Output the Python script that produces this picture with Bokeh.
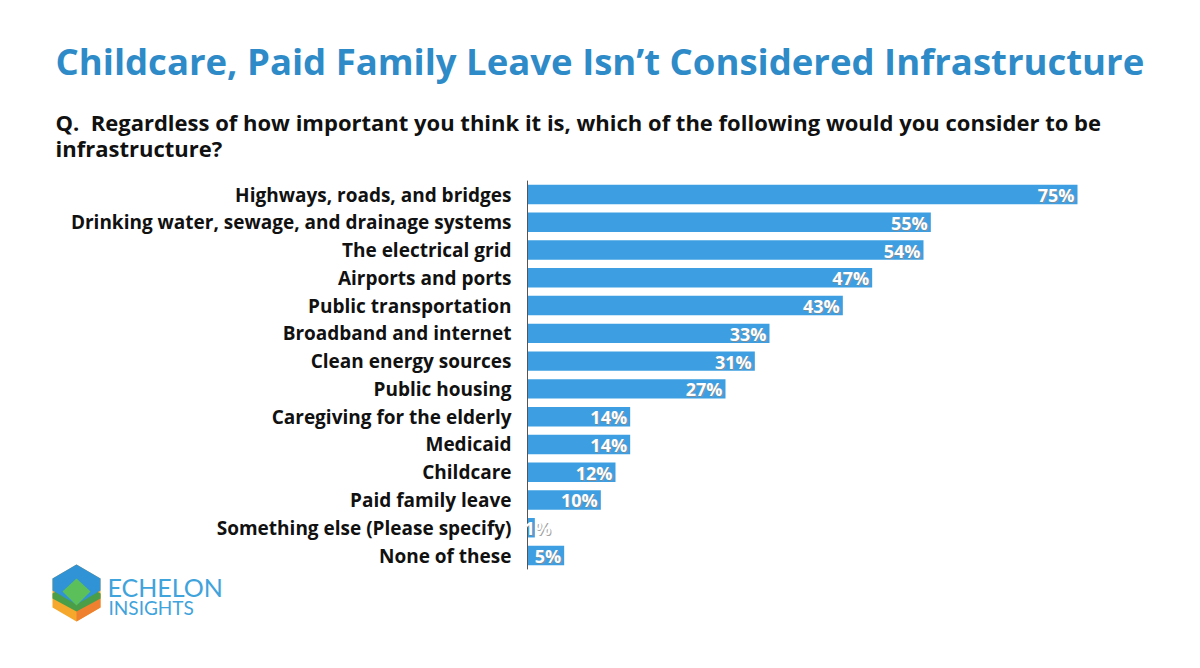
from bokeh.plotting import figure
from bokeh.models import ColumnDataSource, Label, PolyAnnotation, Range1d
from bokeh.core.properties import value
from bokeh.embed import file_html
from bokeh.resources import INLINE

categories = [
    "Highways, roads, and bridges",
    "Drinking water, sewage, and drainage systems",
    "The electrical grid",
    "Airports and ports",
    "Public transportation",
    "Broadband and internet",
    "Clean energy sources",
    "Public housing",
    "Caregiving for the elderly",
    "Medicaid",
    "Childcare",
    "Paid family leave",
    "Something else (Please specify)",
    "None of these",
]
values = [75, 55, 54, 47, 43, 33, 31, 27, 14, 14, 12, 10, 1, 5]
value_labels = [f"{v}%" for v in values]

TITLE = "Childcare, Paid Family Leave Isn\u2019t Considered Infrastructure"
SUB1 = "Q.\u00a0 Regardless of how important you think it is, which of the following would you consider to be"
SUB2 = "infrastructure?"

W, H = 1184, 652
FONT = "Open Sans"
BAR = "#3d9fe2"
BLUE_TITLE = "#2e8bc8"

# layout of the plotting area (pixels from top-left of canvas)
AXIS_X = 527          # where 0% sits
PX_PER_PCT = 550 / 75
ROW0_Y = 194          # centre of first row
ROW_H = 27.77

n = len(categories)
rows = list(range(n))

# label anchor: inside bar end, or just past bar start when the bar is too short
label_x = [v if v >= 4 else 3.6 for v in values]

src = ColumnDataSource(dict(cat=categories, row=rows, val=values,
                            lab=value_labels, lx=label_x, zero=[0] * n))

p = figure(width=W, height=H, output_backend="svg", toolbar_location=None,
           x_axis_location=None, y_axis_location=None,
           x_range=Range1d(-AXIS_X / PX_PER_PCT, (W - AXIS_X) / PX_PER_PCT),
           y_range=Range1d((H - ROW0_Y) / ROW_H, -ROW0_Y / ROW_H),
           min_border=0)
p.outline_line_color = None
p.background_fill_color = "white"
p.border_fill_color = "white"
p.grid.visible = False

p.hbar(y="row", right="val", left=0, height=0.7, source=src,
       fill_color=BAR, line_color=None)

# axis line and category labels
p.segment(x0=[0], x1=[0], y0=[-0.5], y1=[n - 0.5], line_color="#555555", line_width=1)
p.text(x="zero", y="row", text="cat", source=src, text_align="right",
       text_baseline="middle", x_offset=-16,
       text_font=value(FONT), text_font_style="bold", text_font_size="19px",
       text_color="#111111")

# shadow then white value labels
p.text(x="lx", y="row", text="lab", source=src, text_align="right",
       text_baseline="middle", x_offset=-2, y_offset=1.5,
       text_font=value(FONT), text_font_style="bold", text_font_size="18px",
       text_color="#8a8a8a", text_alpha=0.8)
p.text(x="lx", y="row", text="lab", source=src, text_align="right",
       text_baseline="middle", x_offset=-3, y_offset=0.5,
       text_font=value(FONT), text_font_style="bold", text_font_size="18px",
       text_color="white")

# screen units: origin bottom-left of the frame (= canvas here)
def sx(page_x):
    return page_x

def sy(page_y):
    return H - page_y

p.add_layout(Label(x=sx(55), y=sy(60), x_units="screen", y_units="screen",
                   text=TITLE, text_font=FONT, text_font_style="bold",
                   text_font_size="36.5px", text_color=BLUE_TITLE,
                   text_baseline="middle"))
p.add_layout(Label(x=sx(55), y=sy(121), x_units="screen", y_units="screen",
                   text=SUB1, text_font=FONT, text_font_style="bold",
                   text_font_size="22px", text_color="#111111",
                   text_baseline="middle"))
p.add_layout(Label(x=sx(55), y=sy(147), x_units="screen", y_units="screen",
                   text=SUB2, text_font=FONT, text_font_style="bold",
                   text_font_size="22px", text_color="#111111",
                   text_baseline="middle"))

# logo
def poly(pts, color):
    xs = [sx(a) for a, b in pts]
    ys = [sy(b) for a, b in pts]
    p.add_layout(PolyAnnotation(xs=xs, ys=ys, xs_units="screen", ys_units="screen",
                                fill_color=color, fill_alpha=1.0, line_color=None))

T, UR, LR, B, LL, UL = (76, 564), (100, 578), (100, 607), (76, 621), (52, 607), (52, 578)
poly([T, UR, LR, B, LL, UL], "#f5a82c")
poly([(76, 607), (100, 593), LR, B], "#ef8030")
poly([(52, 593), (76, 580), (100, 593), (100, 598), (76, 611), (52, 598)], "#4a9e48")
poly([T, UR, (100, 590), (76, 604), (52, 590), UL], "#2f93d6")
poly([(76, 578), (90, 591), (76, 605), (62, 591)], "#5cc05a")

p.add_layout(Label(x=sx(107), y=sy(586), x_units="screen", y_units="screen",
                   text="ECHELON", text_font="Lato", text_font_size="25px",
                   text_color="#3fa3dc", text_baseline="middle"))
p.add_layout(Label(x=sx(108), y=sy(607), x_units="screen", y_units="screen",
                   text="INSIGHTS", text_font="Lato", text_font_size="19px",
                   text_color="#3fa3dc", text_baseline="middle"))

open("out.html", "w").write(file_html(p, INLINE))
